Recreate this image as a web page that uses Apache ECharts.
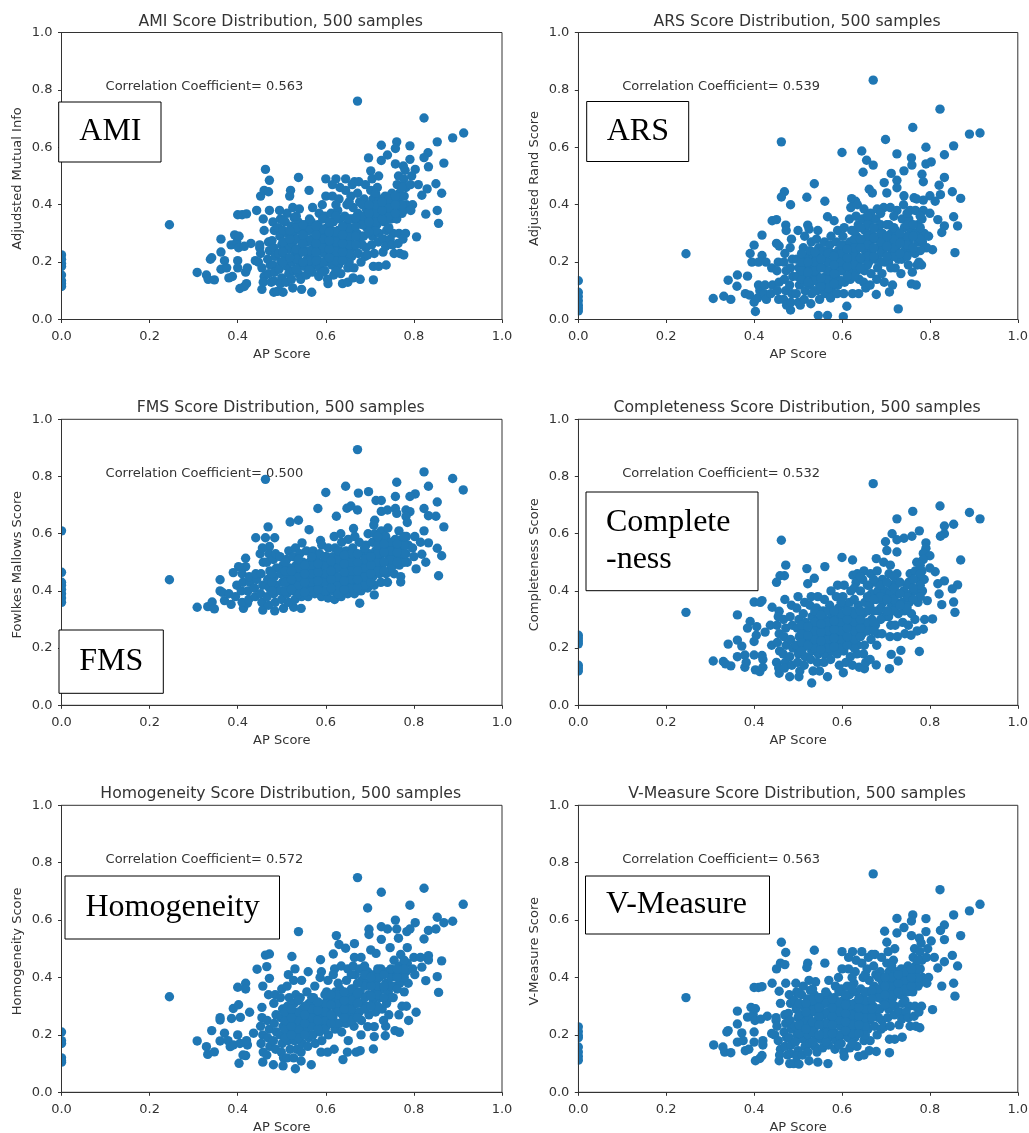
<!DOCTYPE html>
<html><head><meta charset="utf-8">
<script src="https://cdn.jsdelivr.net/npm/echarts@6/dist/echarts.min.js"></script>
<style>html,body{margin:0;padding:0;background:#fff}#c{width:1029px;height:1133px}</style></head>
<body><div id="c"></div>
<script>
const xName='AP Score';
const titles=['AMI Score Distribution, 500 samples','ARS Score Distribution, 500 samples','FMS Score Distribution, 500 samples','Completeness Score Distribution, 500 samples','Homogeneity Score Distribution, 500 samples','V-Measure Score Distribution, 500 samples'];
const yNames=['Adjudsted Mutual Info','Adjusted Rand Score','Fowlkes Mallows Score','Completeness Score','Homogeneity Score','V-Measure Score'];
const corr=['0.563','0.539','0.500','0.532','0.572','0.563'];
const boxLabels=[['AMI'],['ARS'],['FMS'],['Complete','-ness'],['Homogeneity'],['V-Measure']];

const amiPoints=[[0,.225],[0,.21],[0,.195],[0,.185],[0,.155],[0,.135],[0,.125],[0,.115],[.245,.33],
[.308,.164],[.329,.155],[.333,.14],[.347,.138],[.341,.215],[.338,.21],[.362,.28],[.362,.235],[.37,.205],[.362,.175],[.375,.18],[.38,.145],[.388,.15],[.385,.26],[.393,.295],[.398,.27],[.403,.29],[.402,.25],[.4,.205],[.4,.18],[.41,.365],[.4,.365],[.42,.368],[.405,.108],[.415,.115],[.42,.125],[.418,.165],[.422,.18],[.43,.265],[.415,.255],[.44,.205],[.45,.25],[.443,.38],[.452,.43],[.46,.45],[.47,.445],[.472,.485],[.463,.523],[.472,.38],[.458,.35],[.46,.31],[.455,.105],[.482,.095],[.49,.098],[.503,.095],
[.672,.761],[.823,.702],[.913,.65],[.888,.633],[.853,.619],[.791,.605],[.761,.619],[.758,.596],[.726,.607],[.74,.573],[.697,.563],[.726,.554],[.791,.558],[.832,.581],[.823,.564],[.868,.545],[.833,.532],[.758,.542],[.803,.523],[.776,.535],[.702,.518],[.538,.495],[.6,.49],[.623,.49],[.645,.49],[.85,.473],[.863,.44],[.83,.455],[.818,.433],[.853,.38],[.827,.367],[.856,.335],[.806,.288],[.52,.45],[.518,.43],[.562,.45],
[.45,.26],[.452,.23],[.447,.2],[.455,.18],[.46,.15],[.458,.13],[.47,.27],[.472,.24],[.468,.21],[.474,.19],[.47,.16],[.476,.13],
[.48,.34],[.483,.31],[.478,.275],[.482,.25],[.485,.22],[.48,.19],[.484,.165],[.482,.135],
[.495,.38],[.497,.35],[.492,.32],[.496,.29],[.5,.26],[.493,.23],[.498,.2],[.494,.175],[.5,.145],[.497,.125],
[.512,.37],[.508,.34],[.513,.3],[.51,.27],[.515,.245],[.508,.215],[.512,.185],[.516,.16],[.51,.13],
[.525,.39],[.528,.355],[.522,.325],[.526,.295],[.524,.265],[.53,.235],[.523,.2],[.527,.17],[.522,.14],[.525,.11],
[.54,.385],[.537,.34],[.542,.31],[.538,.28],[.543,.25],[.536,.22],[.541,.19],[.538,.16],[.543,.14],[.545,.105],
[.555,.33],[.552,.3],[.557,.27],[.553,.24],[.558,.21],[.551,.185],[.556,.155],
[.57,.39],[.567,.34],[.572,.31],[.568,.28],[.573,.25],[.566,.22],[.571,.19],[.569,.165],[.568,.095],
[.585,.37],[.582,.33],[.587,.3],[.583,.27],[.588,.24],[.581,.21],[.586,.18],[.584,.15],
[.6,.43],[.592,.4],[.598,.36],[.603,.32],[.597,.29],[.602,.26],[.596,.23],[.601,.2],[.598,.17],[.604,.14],
[.615,.43],[.612,.37],[.617,.34],[.613,.31],[.618,.28],[.611,.25],[.616,.22],[.614,.19],[.618,.155],[.605,.125],[.615,.47],
[.63,.42],[.627,.38],[.632,.35],[.628,.31],[.633,.28],[.626,.25],[.631,.22],[.629,.19],[.634,.16],[.632,.46],
[.645,.45],[.648,.4],[.643,.36],[.647,.33],[.644,.3],[.649,.27],[.642,.24],[.646,.21],[.65,.18],[.638,.125],[.65,.13],
[.66,.47],[.657,.43],[.662,.39],[.658,.35],[.663,.31],[.656,.28],[.661,.25],[.659,.22],[.664,.18],[.662,.145],[.665,.48],
[.675,.48],[.672,.44],[.677,.41],[.673,.37],[.678,.34],[.671,.3],[.676,.27],[.674,.23],[.68,.2],[.678,.14],
[.69,.47],[.687,.42],[.692,.385],[.688,.35],[.693,.32],[.686,.29],[.691,.25],[.689,.22],[.695,.225],
[.705,.49],[.702,.45],[.707,.42],[.703,.38],[.708,.35],[.701,.32],[.706,.29],[.704,.26],[.71,.23],[.708,.185],[.708,.138],
[.72,.5],[.717,.46],[.722,.42],[.718,.39],[.723,.36],[.716,.33],[.721,.3],[.719,.27],[.73,.235],[.72,.185],
[.735,.43],[.732,.4],[.737,.37],[.733,.34],[.738,.31],[.731,.28],[.736,.255],[.737,.19],
[.75,.44],[.747,.41],[.752,.38],[.748,.35],[.753,.3],[.746,.28],[.751,.26],[.755,.23],
[.765,.5],[.762,.47],[.767,.44],[.763,.41],[.768,.39],[.761,.35],[.766,.3],[.764,.265],[.768,.23],
[.78,.52],[.777,.49],[.782,.46],[.778,.43],[.783,.4],[.776,.38],[.781,.3],[.775,.28],[.777,.225],
[.795,.5],[.792,.47],[.797,.4],[.793,.38],[.81,.47],
[.503,.2],[.503,.235],[.503,.27],[.503,.31],[.503,.345],[.533,.175],[.533,.21],[.533,.245],[.533,.28],[.533,.32],[.533,.36],[.563,.175],[.563,.205],[.563,.24],[.563,.275],[.563,.31],[.563,.35],[.593,.165],[.593,.2],[.593,.25],[.593,.28],[.593,.315],[.593,.35],[.623,.17],[.623,.205],[.623,.235],[.623,.27],[.623,.305],[.623,.36],[.623,.4],[.653,.2],[.653,.23],[.653,.26],[.653,.29],[.653,.32],[.653,.35],[.653,.41],[.683,.26],[.683,.29],[.683,.33],[.683,.36],[.683,.4],[.713,.31],[.713,.34],[.713,.37],[.713,.4],[.713,.44],[.743,.32],[.743,.36],[.743,.39],[.743,.42],[.773,.37],[.773,.4],[.773,.43],[.773,.46],
[.518,.215],[.518,.28],[.518,.31],[.548,.2],[.548,.235],[.548,.265],[.548,.295],[.548,.33],[.578,.205],[.578,.235],[.578,.265],[.578,.295],[.578,.325],[.608,.215],[.608,.245],[.608,.275],[.608,.305],[.608,.34],[.638,.205],[.638,.235],[.638,.265],[.638,.295],[.638,.325],[.668,.26],[.668,.29],[.668,.325],[.668,.355],[.698,.305],[.698,.34],[.698,.37],[.698,.4],[.728,.35],[.728,.38],[.728,.41],[.758,.37],[.758,.4],[.758,.43]];

const arsPoints=[[0,.135],[0,.095],[0,.08],[0,.065],[0,.05],[0,.04],[0,.03],[.245,.229],
[.671,.834],[.823,.733],[.761,.669],[.89,.646],[.914,.65],[.699,.627],[.462,.619],[.854,.605],[.791,.6],[.6,.582],[.645,.587],[.725,.577],[.758,.563],[.833,.574],[.656,.555],[.671,.538],[.759,.538],[.791,.542],[.803,.549],[.648,.513],[.741,.518],[.712,.509],[.725,.485],[.782,.506],[.785,.48],[.833,.495],[.696,.477],[.821,.468],[.725,.459],[.537,.473],[.662,.454],[.669,.441],[.702,.441],[.469,.445],[.462,.427],[.52,.426],[.741,.431],[.851,.445],[.87,.422],[.824,.435],[.8,.431],[.764,.424],[.561,.412],[.622,.421],[.631,.412],[.483,.4],[.812,.412],[.785,.416],
[.567,.358],[.582,.344],[.441,.344],[.451,.348],[.472,.329],[.522,.329],[.525,.315],[.854,.358],[.818,.348],[.833,.326],[.863,.326],[.827,.303],[.418,.294],[.4,.259],[.451,.265],[.457,.256],[.391,.23],[.418,.223],[.857,.233],[.806,.243],[.734,.16],[.758,.124],[.769,.12],[.708,.096],[.678,.087],[.728,.037],[.611,.046],[.603,.01],[.546,.014],[.567,.014],[.483,.033],[.403,.028],[.307,.073],[.331,.081],[.347,.07],[.341,.137],[.362,.155],[.385,.151],[.361,.116],[.38,.09],[.39,.085],[.395,.2],[.41,.2],[.4,.06],
[.41,.12],[.413,.1],[.408,.075],[.425,.12],[.423,.09],[.428,.07],[.427,.2],[.44,.18],[.442,.12],[.438,.09],
[.455,.2],[.452,.17],[.457,.13],[.453,.1],[.456,.07],[.47,.23],[.468,.2],[.473,.17],[.469,.14],[.472,.1],[.467,.07],[.474,.05],[.473,.31],
[.485,.28],[.482,.25],[.487,.21],[.483,.18],[.488,.15],[.481,.12],[.486,.09],[.484,.06],
[.5,.31],[.497,.21],[.502,.18],[.498,.15],[.503,.12],[.496,.09],[.501,.06],[.505,.05],
[.515,.29],[.512,.25],[.517,.22],[.513,.19],[.518,.16],[.511,.13],[.516,.1],[.514,.07],
[.53,.27],[.527,.24],[.532,.21],[.528,.18],[.533,.15],[.526,.12],[.531,.09],[.529,.055],
[.545,.31],[.542,.28],[.547,.25],[.543,.22],[.548,.19],[.541,.16],[.546,.13],[.544,.1],[.549,.07],
[.56,.27],[.557,.24],[.562,.21],[.558,.18],[.563,.15],[.556,.12],[.561,.09],
[.575,.29],[.572,.26],[.577,.23],[.573,.2],[.578,.17],[.571,.14],[.576,.1],[.574,.075],
[.59,.31],[.587,.27],[.592,.24],[.588,.21],[.593,.18],[.586,.15],[.591,.12],[.589,.09],
[.605,.32],[.602,.29],[.607,.26],[.603,.23],[.608,.2],[.601,.17],[.606,.13],[.604,.09],
[.62,.39],[.617,.35],[.622,.31],[.618,.27],[.623,.24],[.616,.2],[.621,.17],[.619,.14],[.624,.09],
[.635,.4],[.632,.36],[.637,.33],[.633,.29],[.638,.26],[.631,.23],[.636,.2],[.634,.17],[.639,.14],[.638,.09],
[.65,.385],[.647,.35],[.652,.31],[.648,.27],[.653,.24],[.646,.21],[.651,.17],[.649,.13],[.654,.11],
[.665,.37],[.662,.34],[.667,.3],[.663,.27],[.668,.24],[.661,.2],[.666,.16],[.664,.12],
[.68,.385],[.677,.35],[.682,.32],[.678,.28],[.683,.25],[.676,.21],[.681,.18],[.679,.14],
[.695,.39],[.692,.3],[.697,.27],[.693,.24],[.698,.2],[.691,.16],[.696,.13],
[.71,.39],[.707,.33],[.712,.3],[.708,.27],[.713,.24],[.706,.2],[.711,.18],[.715,.12],
[.725,.38],[.722,.31],[.727,.28],[.723,.25],[.728,.21],[.721,.18],
[.74,.4],[.737,.35],[.742,.32],[.738,.28],[.743,.24],[.736,.21],
[.755,.38],[.752,.35],[.757,.31],[.753,.27],[.758,.24],[.751,.19],
[.77,.42],[.767,.38],[.772,.33],[.768,.3],[.773,.27],[.766,.23],[.771,.19],[.76,.165],
[.785,.38],[.782,.35],[.787,.3],[.783,.27],[.788,.25],[.781,.19],[.8,.37],[.797,.29],[.793,.25],[.775,.2],
[.508,.14],[.508,.17],[.508,.2],[.508,.23],[.538,.1],[.538,.135],[.538,.17],[.538,.2],[.538,.235],[.568,.11],[.568,.14],[.568,.17],[.568,.2],[.568,.23],[.598,.135],[.598,.17],[.598,.2],[.598,.23],[.598,.26],[.628,.15],[.628,.19],[.628,.22],[.628,.25],[.628,.28],[.628,.31],[.658,.19],[.658,.22],[.658,.26],[.658,.29],[.658,.33],[.658,.36],[.688,.2],[.688,.23],[.688,.27],[.688,.3],[.688,.33],[.688,.37],[.718,.22],[.718,.25],[.718,.28],[.718,.32],[.718,.36],[.748,.22],[.748,.26],[.748,.29],[.748,.33],[.748,.37],[.778,.24],[.778,.28],[.778,.32],[.778,.36],
[.522,.13],[.522,.165],[.522,.2],[.552,.115],[.552,.145],[.552,.18],[.552,.21],[.582,.125],[.582,.16],[.582,.19],[.582,.22],[.612,.15],[.612,.185],[.612,.215],[.612,.245],[.642,.18],[.642,.215],[.642,.25],[.642,.28],[.642,.32],[.672,.22],[.672,.25],[.672,.285],[.672,.32],[.702,.22],[.702,.255],[.702,.29],[.702,.33],[.732,.23],[.732,.265],[.732,.3],[.762,.25],[.762,.29],[.762,.33]];

const fmsPoints=[[0,.61],[0,.465],[0,.43],[0,.42],[0,.405],[0,.39],[0,.375],[0,.36],[.245,.439],
[.672,.894],[.823,.816],[.463,.79],[.761,.78],[.888,.793],[.912,.753],[.833,.766],[.645,.766],[.6,.744],[.674,.742],[.697,.747],[.803,.739],[.791,.73],[.758,.73],[.714,.716],[.726,.716],[.853,.711],[.657,.697],[.648,.689],[.582,.688],[.672,.683],[.726,.678],[.74,.683],[.758,.688],[.761,.671],[.782,.683],[.791,.677],[.823,.688],[.833,.663],[.85,.661],[.624,.661],[.782,.66],[.785,.639],[.711,.647],[.538,.647],[.519,.641],[.469,.624],[.562,.614],[.868,.624],[.663,.618],[.823,.61],[.441,.586],[.463,.586],[.484,.586],[.588,.576],[.546,.568],[.472,.555],[.833,.568],[.853,.549],[.863,.523],[.818,.528],[.827,.5],[.805,.477],[.856,.453],[.36,.439],[.77,.431],[.418,.514],[.418,.485],[.402,.485],[.39,.464],[.71,.386],[.677,.357],
[.308,.343],[.332,.345],[.342,.361],[.347,.337],[.36,.4],[.37,.366],[.385,.353],[.413,.339],[.422,.357],[.457,.333],[.484,.33],[.504,.339],[.527,.343],[.544,.339],[.365,.395],[.38,.39],
[.395,.38],[.398,.42],[.41,.36],[.408,.4],[.412,.43],[.41,.46],[.425,.37],[.423,.4],[.428,.43],[.426,.45],[.44,.38],[.438,.41],[.443,.44],[.441,.46],
[.455,.36],[.452,.39],[.457,.42],[.453,.46],[.458,.5],[.451,.53],[.456,.55],
[.47,.35],[.467,.38],[.472,.41],[.468,.44],[.473,.47],[.466,.5],[.471,.53],
[.485,.36],[.482,.39],[.487,.42],[.483,.45],[.488,.48],[.481,.51],[.486,.53],
[.5,.37],[.497,.4],[.502,.43],[.498,.46],[.503,.49],[.496,.52],
[.515,.36],[.512,.39],[.517,.42],[.513,.45],[.518,.48],[.511,.51],[.516,.54],
[.53,.37],[.527,.4],[.532,.43],[.528,.46],[.533,.49],[.526,.52],[.531,.55],
[.545,.38],[.542,.41],[.547,.44],[.543,.47],[.548,.5],[.541,.53],
[.56,.38],[.557,.41],[.562,.44],[.558,.47],[.563,.5],[.556,.54],
[.575,.39],[.572,.42],[.577,.45],[.573,.48],[.578,.51],[.571,.54],
[.59,.38],[.587,.41],[.592,.44],[.588,.47],[.593,.5],[.586,.53],[.591,.56],
[.605,.375],[.602,.4],[.607,.43],[.603,.46],[.608,.49],[.601,.52],[.606,.55],
[.62,.37],[.617,.4],[.622,.43],[.618,.46],[.623,.49],[.616,.52],[.621,.55],[.619,.59],
[.635,.38],[.632,.42],[.637,.45],[.633,.48],[.638,.51],[.631,.54],[.636,.57],[.634,.6],
[.65,.39],[.647,.42],[.652,.45],[.648,.48],[.653,.51],[.646,.54],[.651,.58],
[.665,.39],[.662,.42],[.667,.45],[.663,.48],[.668,.51],[.661,.55],[.666,.59],
[.68,.4],[.677,.43],[.682,.46],[.678,.49],[.683,.53],[.676,.57],
[.695,.41],[.692,.44],[.697,.47],[.693,.5],[.698,.53],[.691,.56],[.696,.6],
[.71,.42],[.707,.45],[.712,.48],[.708,.51],[.713,.54],[.706,.57],[.711,.6],[.709,.63],
[.725,.43],[.722,.46],[.727,.49],[.723,.52],[.728,.55],[.721,.58],[.726,.61],
[.74,.43],[.737,.46],[.742,.5],[.738,.53],[.743,.56],[.736,.59],[.741,.62],
[.755,.46],[.752,.49],[.757,.52],[.753,.55],[.758,.58],
[.77,.45],[.767,.49],[.772,.52],[.768,.55],[.773,.58],[.766,.61],
[.785,.5],[.782,.53],[.787,.56],[.783,.59],[.8,.52],[.797,.55],[.802,.59],[.815,.57],
[.478,.4],[.478,.43],[.478,.46],[.508,.4],[.508,.43],[.508,.47],[.508,.5],[.538,.39],[.538,.42],[.538,.45],[.538,.48],[.538,.51],[.568,.4],[.568,.43],[.568,.46],[.568,.49],[.568,.52],[.598,.4],[.598,.43],[.598,.46],[.598,.49],[.598,.52],[.628,.39],[.628,.42],[.628,.45],[.628,.48],[.628,.51],[.628,.54],[.658,.41],[.658,.44],[.658,.47],[.658,.5],[.658,.53],[.688,.42],[.688,.45],[.688,.48],[.688,.51],[.688,.55],[.718,.47],[.718,.5],[.718,.53],[.718,.56],[.718,.59],[.748,.48],[.748,.51],[.748,.54],[.748,.57],[.778,.5],[.778,.53],[.778,.56],[.778,.59],
[.522,.405],[.522,.44],[.522,.47],[.552,.395],[.552,.43],[.552,.46],[.552,.49],[.582,.405],[.582,.435],[.582,.465],[.582,.495],[.612,.41],[.612,.44],[.612,.47],[.612,.505],[.642,.405],[.642,.435],[.642,.465],[.642,.495],[.642,.525],[.672,.41],[.672,.44],[.672,.47],[.672,.5],[.672,.53],[.702,.43],[.702,.46],[.702,.49],[.702,.52],[.732,.47],[.732,.5],[.732,.535],[.732,.565],[.762,.5],[.762,.535],[.762,.565]];

const completenessPoints=[[0,.245],[0,.235],[0,.225],[0,.215],[0,.14],[0,.13],[0,.12],[.245,.325],
[.671,.775],[.823,.697],[.761,.678],[.89,.674],[.914,.652],[.725,.652],[.833,.627],[.854,.633],[.776,.61],[.714,.6],[.759,.591],[.741,.584],[.725,.579],[.833,.6],[.824,.591],[.462,.577],[.699,.572],[.791,.568],[.791,.549],[.702,.541],[.725,.536],[.785,.531],[.8,.523],[.6,.517],[.624,.508],[.87,.508],[.678,.513],[.561,.485],[.472,.49],[.52,.478],[.812,.467],[.469,.453],[.459,.453],[.537,.444],[.451,.43],[.522,.425],[.833,.435],[.818,.425],[.863,.421],[.851,.407],[.821,.389],[.794,.366],[.854,.361],[.827,.352],[.857,.325],[.806,.302],[.785,.266],[.776,.188],[.734,.192],[.712,.178],[.728,.155],[.708,.128],[.678,.141],[.651,.128],[.639,.133],[.603,.114],[.567,.1],[.531,.078],[.502,.1],[.481,.1],[.457,.112],[.362,.316],[.4,.361],[.418,.366],[.414,.36],[.441,.343],[.457,.329],[.391,.293],[.385,.27],[.406,.275],[.341,.214],[.362,.228],[.372,.207],[.307,.155],[.33,.153],[.347,.138],[.362,.17],[.379,.133],[.379,.176],[.4,.176],[.418,.174],[.403,.124],[.413,.118],[.42,.133],[.4,.223],[.425,.256],[.42,.16],[.382,.15],[.335,.145],[.405,.245],
[.44,.21],[.437,.28],[.455,.31],[.452,.28],[.457,.25],[.453,.22],[.458,.19],[.451,.15],[.456,.13],
[.47,.37],[.467,.3],[.472,.27],[.468,.24],[.473,.21],[.466,.18],[.471,.15],[.469,.13],
[.485,.35],[.482,.31],[.487,.28],[.483,.23],[.488,.2],[.481,.17],[.486,.14],
[.5,.38],[.497,.34],[.502,.3],[.498,.27],[.503,.24],[.496,.21],[.501,.18],[.499,.15],[.504,.12],
[.515,.36],[.512,.32],[.517,.29],[.513,.26],[.518,.23],[.511,.2],[.516,.17],[.514,.14],
[.53,.38],[.527,.35],[.532,.31],[.528,.28],[.533,.25],[.526,.22],[.531,.19],[.529,.16],[.534,.12],
[.545,.38],[.542,.34],[.547,.3],[.543,.27],[.548,.24],[.541,.21],[.546,.18],[.544,.15],[.549,.12],
[.56,.37],[.557,.33],[.562,.3],[.558,.27],[.563,.24],[.556,.21],[.561,.18],[.559,.15],
[.575,.4],[.572,.35],[.577,.31],[.573,.28],[.578,.25],[.571,.22],[.576,.19],[.574,.16],
[.59,.42],[.587,.38],[.592,.34],[.588,.3],[.593,.27],[.586,.24],[.591,.21],[.589,.18],[.594,.14],
[.605,.42],[.602,.38],[.607,.35],[.603,.31],[.608,.28],[.601,.25],[.606,.22],[.604,.19],[.609,.15],
[.62,.4],[.617,.36],[.622,.33],[.618,.3],[.623,.27],[.616,.24],[.621,.21],[.619,.17],[.624,.14],[.625,.455],
[.635,.46],[.632,.43],[.637,.35],[.633,.31],[.638,.28],[.631,.25],[.636,.21],[.634,.18],
[.65,.47],[.647,.44],[.652,.36],[.648,.32],[.653,.28],[.646,.25],[.651,.21],[.649,.18],[.654,.15],
[.665,.46],[.662,.42],[.667,.39],[.663,.35],[.668,.3],[.661,.27],[.666,.23],[.664,.16],
[.68,.47],[.677,.43],[.682,.4],[.678,.37],[.683,.33],[.676,.28],[.681,.25],[.679,.21],
[.695,.5],[.692,.44],[.697,.4],[.693,.36],[.698,.31],[.691,.25],
[.71,.49],[.707,.46],[.712,.42],[.708,.39],[.713,.35],[.706,.31],[.711,.28],[.709,.24],
[.725,.46],[.722,.42],[.727,.39],[.723,.36],[.728,.32],[.721,.28],[.726,.24],
[.74,.4],[.737,.36],[.742,.33],[.738,.29],[.743,.25],
[.755,.46],[.752,.43],[.757,.39],[.753,.36],[.758,.32],[.751,.28],[.757,.245],
[.77,.5],[.767,.47],[.772,.44],[.768,.4],[.773,.36],[.766,.3],[.771,.26],
[.785,.51],[.782,.47],[.787,.44],[.783,.4],[.788,.3],[.8,.48],
[.508,.19],[.508,.22],[.508,.25],[.508,.28],[.538,.2],[.538,.23],[.538,.26],[.538,.29],[.538,.33],[.568,.2],[.568,.23],[.568,.26],[.568,.29],[.568,.33],[.598,.2],[.598,.23],[.598,.26],[.598,.29],[.598,.32],[.598,.36],[.628,.2],[.628,.23],[.628,.26],[.628,.29],[.628,.32],[.628,.37],[.628,.41],[.658,.26],[.658,.29],[.658,.33],[.658,.38],[.658,.42],[.688,.3],[.688,.34],[.688,.38],[.688,.42],[.718,.33],[.718,.37],[.718,.41],[.718,.45],[.748,.34],[.748,.38],[.748,.42],[.778,.38],[.778,.42],[.778,.46],[.778,.49],
[.522,.21],[.522,.245],[.522,.275],[.552,.195],[.552,.225],[.552,.255],[.552,.285],[.552,.315],[.582,.205],[.582,.235],[.582,.265],[.582,.295],[.582,.33],[.612,.21],[.612,.24],[.612,.27],[.612,.3],[.612,.33],[.642,.24],[.642,.27],[.642,.3],[.642,.33],[.642,.4],[.642,.45],[.672,.26],[.672,.29],[.672,.33],[.672,.37],[.672,.44],[.702,.33],[.702,.37],[.702,.43],[.732,.35],[.732,.39],[.732,.43],[.762,.37],[.762,.41],[.762,.44]];

const homogeneityPoints=[[0,.21],[0,.18],[0,.17],[0,.12],[0,.11],[0,.105],[.245,.333],
[.672,.748],[.726,.697],[.823,.711],[.695,.642],[.791,.652],[.912,.655],[.853,.61],[.758,.6],[.803,.591],[.888,.596],[.868,.591],[.726,.577],[.74,.569],[.761,.569],[.698,.568],[.784,.56],[.791,.569],[.833,.564],[.85,.569],[.538,.56],[.698,.55],[.624,.546],[.765,.537],[.726,.533],[.823,.534],[.665,.518],[.63,.515],[.645,.502],[.746,.504],[.785,.504],[.702,.496],[.714,.484],[.472,.482],[.463,.478],[.523,.473],[.617,.482],[.588,.462],[.833,.476],[.863,.458],[.818,.436],[.833,.461],[.853,.403],[.827,.389],[.856,.348],[.805,.279],[.444,.429],[.466,.438],[.472,.397],[.457,.37],[.4,.366],[.418,.38],[.418,.36],[.39,.292],[.402,.305],[.386,.257],[.406,.261],[.427,.279],[.455,.296],[.36,.252],[.36,.26],[.341,.215],[.37,.206],[.308,.179],[.329,.159],[.332,.132],[.347,.141],[.36,.179],[.383,.159],[.4,.2],[.403,.101],[.418,.128],[.422,.165],[.436,.206],[.457,.105],[.481,.096],[.503,.092],[.531,.082],[.544,.109],[.567,.096],[.639,.114],[.708,.151],[.678,.145],[.735,.197],[.71,.194],[.68,.2],[.757,.215],[.767,.209],[.695,.229],[.71,.229],[.378,.18],[.39,.165],[.405,.17],[.412,.13],[.42,.18],
[.455,.26],[.452,.23],[.457,.2],[.453,.17],[.458,.14],[.47,.34],[.467,.25],[.472,.22],[.468,.19],[.473,.16],[.466,.13],
[.485,.34],[.482,.31],[.487,.27],[.483,.24],[.488,.21],[.481,.18],[.486,.15],
[.5,.36],[.497,.33],[.502,.29],[.498,.26],[.503,.23],[.496,.2],[.501,.17],[.499,.14],[.504,.12],
[.515,.41],[.512,.37],[.517,.33],[.513,.3],[.518,.27],[.511,.24],[.516,.21],[.514,.18],[.519,.15],[.512,.12],
[.53,.43],[.527,.39],[.532,.34],[.528,.31],[.533,.27],[.526,.24],[.531,.21],[.529,.18],[.534,.15],[.527,.12],
[.545,.39],[.542,.33],[.547,.29],[.543,.26],[.548,.23],[.541,.2],[.546,.17],[.544,.14],
[.56,.42],[.557,.35],[.562,.31],[.558,.28],[.563,.25],[.556,.22],[.561,.19],[.559,.16],
[.575,.37],[.572,.33],[.577,.3],[.573,.27],[.578,.24],[.571,.2],[.576,.17],
[.59,.42],[.587,.4],[.592,.3],[.588,.27],[.593,.24],[.586,.21],[.591,.18],[.589,.14],
[.605,.39],[.602,.35],[.607,.32],[.603,.29],[.608,.26],[.601,.23],[.606,.2],[.604,.14],
[.62,.43],[.617,.41],[.622,.35],[.618,.32],[.623,.29],[.616,.26],[.621,.22],[.619,.15],
[.635,.44],[.632,.36],[.637,.33],[.633,.3],[.638,.27],[.631,.24],[.636,.21],
[.65,.43],[.647,.39],[.652,.34],[.648,.3],[.653,.27],[.646,.24],[.651,.18],[.649,.14],
[.665,.47],[.662,.44],[.667,.41],[.663,.36],[.668,.33],[.661,.3],[.666,.27],[.664,.23],[.669,.14],
[.68,.47],[.677,.43],[.682,.39],[.678,.35],[.683,.31],[.676,.28],[.681,.25],
[.695,.42],[.692,.38],[.697,.34],[.693,.3],[.698,.27],
[.71,.41],[.707,.38],[.712,.35],[.708,.32],[.713,.28],
[.725,.43],[.722,.4],[.727,.36],[.723,.33],[.728,.29],[.731,.25],
[.74,.42],[.737,.38],[.742,.35],[.738,.31],[.743,.27],[.736,.23],
[.755,.46],[.752,.41],[.757,.37],[.753,.33],
[.77,.48],[.767,.44],[.772,.41],[.768,.38],[.773,.3],[.766,.27],
[.785,.45],[.782,.42],[.787,.38],[.783,.3],[.788,.25],[.8,.47],[.797,.43],[.802,.41],[.815,.47],
[.508,.19],[.508,.22],[.508,.25],[.508,.28],[.538,.19],[.538,.22],[.538,.25],[.538,.28],[.538,.32],[.568,.2],[.568,.23],[.568,.26],[.568,.29],[.568,.33],[.598,.22],[.598,.25],[.598,.28],[.598,.31],[.598,.34],[.628,.24],[.628,.28],[.628,.31],[.628,.34],[.628,.38],[.658,.25],[.658,.29],[.658,.32],[.658,.36],[.658,.41],[.688,.29],[.688,.33],[.688,.37],[.688,.41],[.688,.44],[.718,.3],[.718,.34],[.718,.37],[.718,.4],[.718,.43],[.748,.33],[.748,.37],[.748,.4],[.748,.43],[.778,.35],[.778,.4],[.778,.43],[.778,.46],
[.522,.2],[.522,.23],[.522,.26],[.522,.29],[.552,.2],[.552,.24],[.552,.27],[.552,.3],[.582,.22],[.582,.25],[.582,.285],[.582,.315],[.612,.24],[.612,.27],[.612,.305],[.612,.34],[.642,.26],[.642,.29],[.642,.32],[.642,.35],[.672,.26],[.672,.31],[.672,.345],[.672,.38],[.702,.3],[.702,.335],[.702,.37],[.702,.4],[.732,.33],[.732,.37],[.732,.41],[.762,.36],[.762,.4],[.762,.43]];

const vMeasurePoints=[[0,.228],[0,.212],[0,.198],[0,.19],[0,.158],[0,.14],[0,.125],[0,.112],[.245,.33],
[.308,.165],[.329,.158],[.333,.14],[.347,.138],[.341,.215],[.338,.21],[.362,.283],[.362,.238],[.372,.207],[.362,.175],[.375,.18],[.38,.145],[.388,.15],[.385,.262],[.393,.296],[.398,.27],[.403,.291],[.402,.25],[.4,.21],[.4,.175],[.4,.365],[.41,.365],[.418,.368],[.403,.11],[.413,.118],[.418,.128],[.42,.165],[.42,.18],[.43,.265],[.415,.255],[.44,.205],[.45,.25],[.441,.38],[.451,.43],[.46,.45],[.47,.445],[.472,.487],[.462,.523],[.472,.38],[.457,.352],[.46,.31],[.457,.11],[.481,.1],[.49,.1],[.502,.098],
[.671,.761],[.823,.706],[.914,.655],[.89,.632],[.854,.618],[.791,.605],[.761,.618],[.758,.597],[.725,.606],[.741,.574],[.697,.561],[.725,.555],[.791,.56],[.833,.583],[.824,.564],[.87,.546],[.833,.532],[.758,.546],[.803,.527],[.776,.537],[.702,.523],[.537,.495],[.6,.49],[.624,.49],[.645,.49],[.851,.477],[.863,.44],[.833,.455],[.818,.433],[.854,.38],[.827,.37],[.857,.335],[.806,.288],[.522,.45],[.52,.435],[.561,.45],
[.45,.26],[.452,.23],[.447,.2],[.455,.18],[.46,.15],[.458,.13],[.47,.27],[.472,.24],[.468,.21],[.474,.19],[.47,.16],[.476,.13],
[.48,.34],[.483,.31],[.478,.275],[.482,.25],[.485,.22],[.48,.19],[.484,.165],[.482,.135],
[.495,.38],[.497,.35],[.492,.32],[.496,.29],[.5,.26],[.493,.23],[.498,.2],[.494,.175],[.5,.145],[.497,.125],
[.512,.37],[.508,.34],[.513,.3],[.51,.27],[.515,.245],[.508,.215],[.512,.185],[.516,.16],[.51,.13],
[.525,.39],[.528,.355],[.522,.325],[.526,.295],[.524,.265],[.53,.235],[.523,.2],[.527,.17],[.522,.14],[.525,.11],
[.54,.385],[.537,.34],[.542,.31],[.538,.28],[.543,.25],[.536,.22],[.541,.19],[.538,.16],[.543,.14],[.545,.105],
[.555,.33],[.552,.3],[.557,.27],[.553,.24],[.558,.21],[.551,.185],[.556,.155],
[.57,.39],[.567,.34],[.572,.31],[.568,.28],[.573,.25],[.566,.22],[.571,.19],[.569,.165],[.568,.1],
[.585,.37],[.582,.33],[.587,.3],[.583,.27],[.588,.24],[.581,.21],[.586,.18],[.584,.15],
[.6,.43],[.592,.4],[.598,.36],[.603,.32],[.597,.29],[.602,.26],[.596,.23],[.601,.2],[.598,.17],[.604,.14],
[.615,.43],[.612,.37],[.617,.34],[.613,.31],[.618,.28],[.611,.25],[.616,.22],[.614,.19],[.618,.155],[.605,.125],[.615,.47],
[.63,.42],[.627,.38],[.632,.35],[.628,.31],[.633,.28],[.626,.25],[.631,.22],[.629,.19],[.634,.16],[.632,.46],
[.645,.45],[.648,.4],[.643,.36],[.647,.33],[.644,.3],[.649,.27],[.642,.24],[.646,.21],[.65,.18],[.638,.125],[.65,.13],
[.66,.47],[.657,.43],[.662,.39],[.658,.35],[.663,.31],[.656,.28],[.661,.25],[.659,.22],[.664,.18],[.662,.145],[.668,.48],
[.675,.48],[.672,.44],[.677,.41],[.673,.37],[.678,.34],[.671,.3],[.676,.27],[.674,.23],[.68,.2],[.678,.142],
[.69,.47],[.687,.42],[.692,.385],[.688,.35],[.693,.32],[.686,.29],[.691,.25],[.689,.22],[.695,.228],
[.705,.49],[.702,.45],[.707,.42],[.703,.38],[.708,.35],[.701,.32],[.706,.29],[.704,.26],[.71,.23],[.708,.185],[.708,.138],
[.72,.5],[.717,.46],[.722,.42],[.718,.39],[.723,.36],[.716,.33],[.721,.3],[.719,.27],[.73,.235],[.72,.185],
[.735,.43],[.732,.4],[.737,.37],[.733,.34],[.738,.31],[.731,.28],[.736,.255],[.737,.192],
[.75,.44],[.747,.41],[.752,.38],[.748,.35],[.753,.3],[.746,.28],[.751,.26],[.755,.23],
[.765,.5],[.762,.47],[.767,.44],[.763,.41],[.768,.39],[.761,.35],[.766,.3],[.764,.265],[.768,.23],
[.78,.52],[.777,.49],[.782,.46],[.778,.43],[.783,.4],[.776,.38],[.781,.3],[.775,.28],[.777,.225],
[.795,.5],[.792,.47],[.797,.4],[.793,.38],[.81,.47],
[.503,.205],[.503,.235],[.503,.27],[.503,.31],[.503,.345],[.533,.175],[.533,.21],[.533,.245],[.533,.285],[.533,.32],[.533,.36],[.563,.175],[.563,.205],[.563,.24],[.563,.275],[.563,.31],[.563,.35],[.593,.165],[.593,.2],[.593,.25],[.593,.28],[.593,.315],[.593,.35],[.623,.17],[.623,.205],[.623,.235],[.623,.27],[.623,.305],[.623,.36],[.623,.4],[.653,.2],[.653,.23],[.653,.26],[.653,.29],[.653,.32],[.653,.35],[.653,.41],[.683,.26],[.683,.29],[.683,.33],[.683,.36],[.683,.4],[.713,.31],[.713,.34],[.713,.37],[.713,.4],[.713,.44],[.743,.32],[.743,.36],[.743,.39],[.743,.42],[.773,.37],[.773,.4],[.773,.43],[.773,.46],
[.518,.22],[.518,.28],[.518,.31],[.548,.2],[.548,.235],[.548,.265],[.548,.295],[.548,.33],[.578,.205],[.578,.235],[.578,.265],[.578,.295],[.578,.325],[.608,.215],[.608,.245],[.608,.275],[.608,.305],[.608,.34],[.638,.205],[.638,.235],[.638,.265],[.638,.295],[.638,.325],[.668,.26],[.668,.29],[.668,.325],[.668,.355],[.698,.305],[.698,.34],[.698,.37],[.698,.4],[.728,.35],[.728,.38],[.728,.41],[.758,.37],[.758,.4],[.758,.43]];

const panelPoints=[amiPoints,arsPoints,fmsPoints,completenessPoints,homogeneityPoints,vMeasurePoints];

const plotRects=[[61.5,32.5,440.5,287],[578.3,32.5,439.5,287],[61.5,419.3,440.5,286],[578.3,419.3,439.5,286],[61.5,805.3,440.5,287],[578.3,805.3,439.5,287]];
const boxRects=[[58.7,102,102.3,60],[586.7,101.5,102,60],[59,630,104.3,63.3],[586,492,172,98.7],[65,876,214.5,63],[585.5,876,184,58]];
const boxTextLeft=[79.3,606.7,79.3,606,85.5,606];

const TEXT='#333', FONT='"DejaVu Sans"', SPINE='#333';
const opt={animation:false,backgroundColor:'#fff',title:[],grid:[],xAxis:[],yAxis:[],series:[],graphic:[]};
titles.forEach((t,i)=>{
  const [l,tp,w,h]=plotRects[i];
  opt.title.push({text:t,left:l+w/2-6,top:tp-24,textAlign:'center',textStyle:{fontFamily:FONT,fontSize:15.7,fontWeight:'normal',color:TEXT}});
  opt.grid.push({z:0,left:l,top:tp,width:w,height:h,outerBoundsMode:'none',show:true,borderColor:SPINE,borderWidth:1,backgroundColor:'transparent'});
  const common={z:3,min:0,max:1,interval:0.2,gridIndex:i,splitLine:{show:false},
    axisLine:{onZero:false,lineStyle:{color:SPINE,width:1}},axisTick:{length:3.5,lineStyle:{color:SPINE}},
    axisLabel:{fontFamily:FONT,fontSize:13,color:TEXT,showMinLabel:true,showMaxLabel:true,hideOverlap:false,formatter:v=>v.toFixed(1)},
    nameLocation:'middle',nameTextStyle:{fontFamily:FONT,fontSize:13,color:TEXT}};
  opt.xAxis.push({...common,axisLabel:{...common.axisLabel,margin:11},type:'value',name:xName,nameGap:29});
  opt.yAxis.push({...common,axisLabel:{...common.axisLabel,margin:9},nameTextStyle:{...common.nameTextStyle,padding:[0,5,0,0]},type:'value',name:yNames[i],nameGap:37});
  opt.series.push({type:'scatter',z:1,xAxisIndex:i,yAxisIndex:i,data:panelPoints[i],symbolSize:9.4,clip:false,silent:true,
    itemStyle:{color:'#1f77b4',opacity:1},
    markPoint:{silent:true,z:5,symbol:'circle',symbolSize:0,data:[{coord:[0.1,0.8]}],
      label:{show:true,position:'right',distance:0,offset:[0,-3],formatter:'Correlation Coefficient= '+corr[i],fontFamily:FONT,fontSize:13,color:TEXT}}});
  // white strips left of and below the axes: marks stop at the axes, which stay on top
  opt.graphic.push({type:'rect',z:2,silent:true,shape:{x:l-7,y:tp,width:6.5,height:h+7},style:{fill:'#fff'}});
  opt.graphic.push({type:'rect',z:2,silent:true,shape:{x:l-7,y:tp+h+0.5,width:w+7,height:6.5},style:{fill:'#fff'}});
  const [bx,by,bw,bh]=boxRects[i];
  opt.graphic.push({type:'rect',z:100,shape:{x:bx,y:by,width:bw,height:bh},style:{fill:'#fff',stroke:'#000',lineWidth:1}});
  const lines=boxLabels[i];
  const lh=37;
  const y0=by+bh/2-lh*(lines.length-1)/2;
  lines.forEach((s,k)=>opt.graphic.push({type:'text',z:101,style:{text:s,x:boxTextLeft[i],y:y0+k*lh,fill:'#000',font:'32px "Liberation Serif"',verticalAlign:'middle'}}));
});
echarts.init(document.getElementById('c'),null,{renderer:'canvas',width:1029,height:1133}).setOption(opt);
</script></body></html>
